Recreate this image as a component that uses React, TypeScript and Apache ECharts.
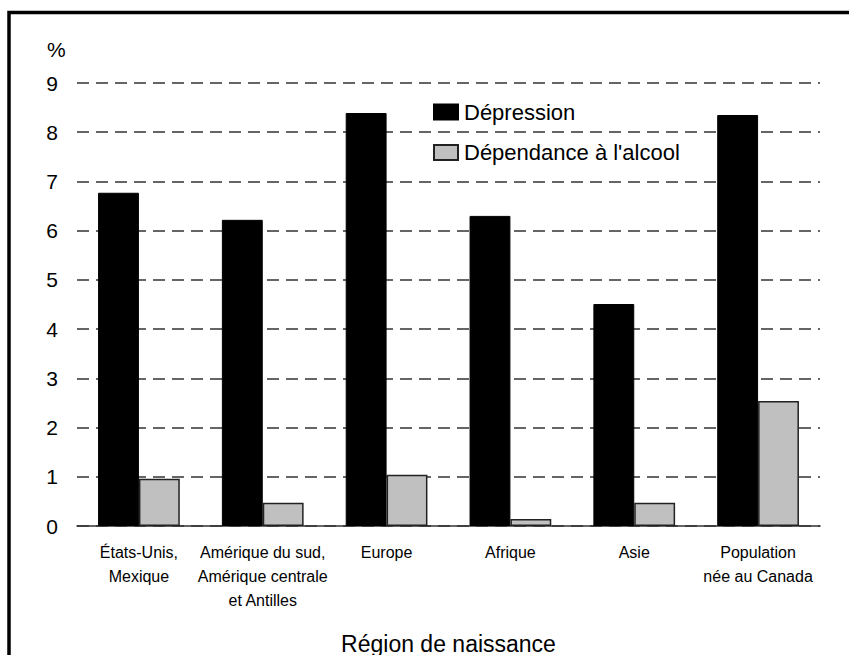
import React, { useEffect, useRef } from "react";
import * as echarts from "echarts";

const categories = [
  "États-Unis,\nMexique",
  "Amérique du sud,\nAmérique centrale\net Antilles",
  "Europe",
  "Afrique",
  "Asie",
  "Population\nnée au Canada",
];
const depression = [6.77, 6.22, 8.39, 6.3, 4.51, 8.35];
const alcool = [0.96, 0.47, 1.04, 0.14, 0.47, 2.54];
const seriesNames = ["Dépression", "Dépendance à l'alcool"];

const FONT = "'Liberation Sans Narrow', 'Liberation Sans', Arial, sans-serif";

export default function App() {
  const ref = useRef<HTMLDivElement>(null);
  useEffect(() => {
    if (!ref.current) return;
    const chart = echarts.init(ref.current, null, { renderer: "svg" });
    chart.setOption({
      animation: false,
      backgroundColor: "#fff",
      textStyle: { fontFamily: FONT, color: "#000" },
      grid: {
        left: 77,
        right: 29,
        top: 83,
        bottom: 129,
        containLabel: false,
        outerBoundsMode: "none",
      },
      legend: {
        orient: "vertical",
        left: 433,
        top: 101,
        padding: 0,
        icon: "rect",
        itemWidth: 24,
        itemHeight: 15,
        itemGap: 18.5,
        textStyle: { fontSize: 22, fontFamily: FONT, color: "#000", padding: [0, 0, 0, 1] },
        data: seriesNames,
      },
      xAxis: {
        type: "category",
        data: categories,
        name: "Région de naissance",
        nameLocation: "middle",
        nameGap: 106,
        nameTextStyle: { fontSize: 23, fontFamily: FONT, color: "#000" },
        axisLine: { lineStyle: { color: "#333", width: 1.5 } },
        axisTick: { show: false },
        axisLabel: {
          fontSize: 16,
          lineHeight: 24,
          margin: 14,
          color: "#000",
          fontFamily: FONT,
          interval: 0,
        },
      },
      yAxis: {
        type: "value",
        min: 0,
        max: 9,
        interval: 1,
        axisLine: { show: false },
        axisTick: { show: false },
        axisLabel: { fontSize: 21, color: "#000", margin: 19, fontFamily: FONT },
        splitLine: {
          lineStyle: { type: [12, 7], color: "#333", width: 1.5 },
        },
      },
      graphic: [
        {
          type: "rect",
          shape: { x: 9, y: 12.5, width: 900, height: 700 },
          style: { fill: "none", stroke: "#000", lineWidth: 3.5 },
          silent: true,
        },
        {
          type: "text",
          x: 47,
          y: 39,
          style: { text: "%", fontSize: 21, fontFamily: FONT, fill: "#000" },
        },
      ],
      series: [
        {
          name: seriesNames[0],
          type: "bar",
          data: depression,
          barGap: "0%",
          barCategoryGap: "34%",
          itemStyle: { color: "#000", borderColor: "#000", borderWidth: 1 },
        },
        {
          name: seriesNames[1],
          type: "bar",
          data: alcool,
          barGap: "0%",
          barCategoryGap: "34%",
          itemStyle: { color: "#c0c0c0", borderColor: "#222", borderWidth: 1.5 },
        },
      ],
    });
    return () => chart.dispose();
  }, []);
  return (
    <div
      ref={ref}
      style={{ position: "fixed", left: 0, top: 0, width: 849, height: 655 }}
    />
  );
}
